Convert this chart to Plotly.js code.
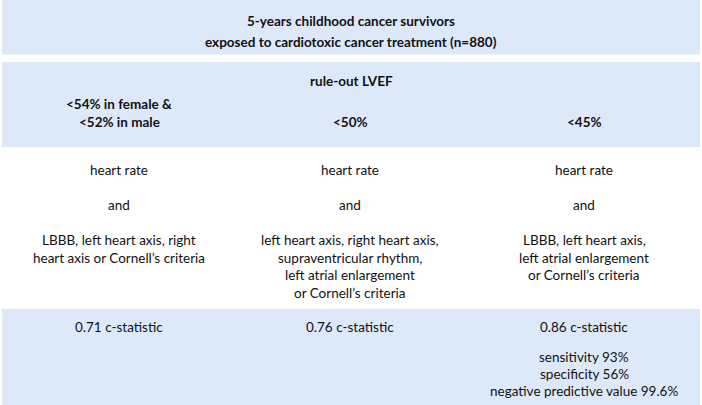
<!DOCTYPE html>
<html>
<head>
<meta charset="utf-8">
<script src="https://cdn.plot.ly/plotly-3.0.1.min.js"></script>
<style>html,body{margin:0;padding:0;background:#fff;}#chart{width:702px;height:405px;}</style>
</head>
<body>
<div id="chart"></div>
<script>
// ---- data ----
const headerLines = ["5-years childhood cancer survivors", "exposed to cardiotoxic cancer treatment (n=880)"];
const groupLabel = "rule-out LVEF";
const thresholds = [["&lt;54% in female &amp;", "&lt;52% in male"], ["&lt;50%"], ["&lt;45%"]];
const predictors = ["heart rate", "heart rate", "heart rate"];
const connectors = ["and", "and", "and"];
const criteria = [
  ["LBBB, left heart axis, right", "heart axis or Cornell’s criteria"],
  ["left heart axis, right heart axis,", "supraventricular rhythm,", "left atrial enlargement", "or Cornell’s criteria"],
  ["LBBB, left heart axis,", "left atrial enlargement", "or Cornell’s criteria"]
];
const cStatistics = ["0.71", "0.76", "0.86"];
const performance = [[], [], ["sensitivity 93%", "specificity 56%", "negative predictive value 99.6%"]];

// ---- layout ----
const W = 702, H = 405;
const colX = [119, 350, 584];
const fill = "#dde9f9";
const FONT = "Lato, 'Open Sans', sans-serif";
const txt = "#111111";
const FS = 13.5;

const shapes = [
  {type: "rect", xref: "x", yref: "y", x0: 2, x1: 700, y0: 0, y1: 54.5, fillcolor: fill, line: {width: 0}, layer: "below"},
  {type: "rect", xref: "x", yref: "y", x0: 2, x1: 700, y0: 62, y1: 147, fillcolor: fill, line: {width: 0}, layer: "below"},
  {type: "rect", xref: "x", yref: "y", x0: 2, x1: 700, y0: 309, y1: 405, fillcolor: fill, line: {width: 0}, layer: "below"}
];

const ann = [];
function add(text, x, y, bold) {
  ann.push({text: bold ? "<b>" + text + "</b>" : text, x: x, y: y, xref: "x", yref: "y",
    showarrow: false, xanchor: "center", yanchor: "middle",
    font: {family: FONT, size: FS, color: txt}});
}
headerLines.forEach((t, i) => add(t, 351, 21 + i * 20.5, true));
add(groupLabel, 351, 81, true);
thresholds.forEach((lines, c) => {
  const base = lines.length === 2 ? 103.5 : 121.5;
  lines.forEach((t, i) => add(t, colX[c], base + i * 18, true));
});
predictors.forEach((t, c) => add(t, colX[c], 170, false));
connectors.forEach((t, c) => add(t, colX[c], 205, false));
criteria.forEach((lines, c) => lines.forEach((t, i) => add(t, colX[c], 240 + i * 17.7, false)));
cStatistics.forEach((v, c) => add(v + " c-statistic", colX[c], 327, false));
performance.forEach((lines, c) => lines.forEach((t, i) => add(t, colX[c], 357 + i * 17, false)));

Plotly.newPlot("chart", [], {
  width: W, height: H,
  margin: {l: 0, r: 0, t: 0, b: 0},
  paper_bgcolor: "#fff", plot_bgcolor: "#fff",
  xaxis: {range: [0, W], visible: false, fixedrange: true},
  yaxis: {range: [H, 0], visible: false, fixedrange: true},
  shapes: shapes, annotations: ann, showlegend: false
}, {staticPlot: true, displayModeBar: false});
</script>
</body>
</html>
